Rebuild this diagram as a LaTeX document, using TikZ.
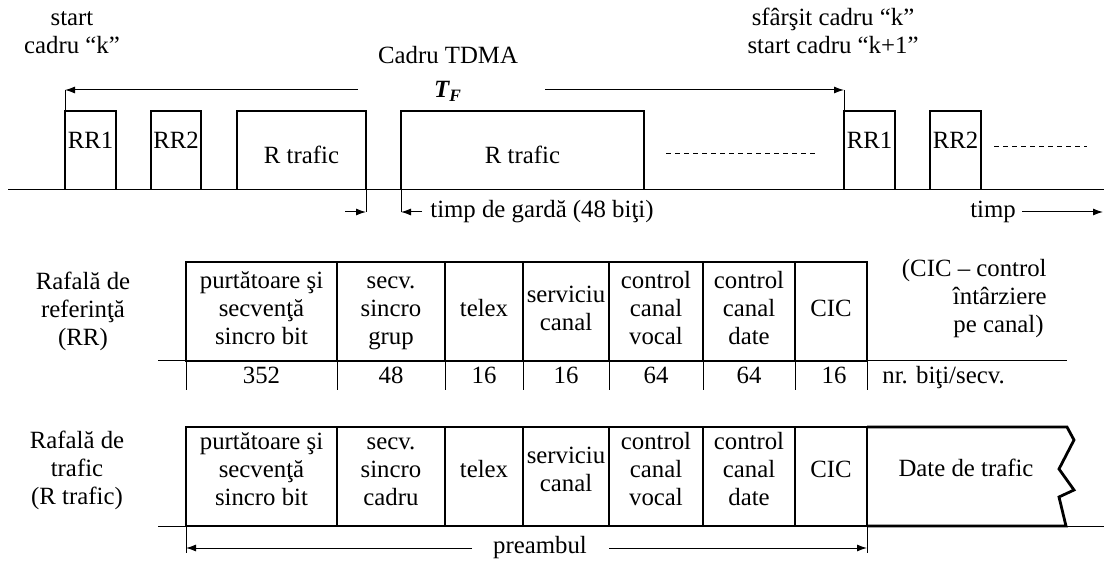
\documentclass[tikz,border=0pt]{standalone}
\usepackage{fontspec}
\setmainfont{Liberation Serif}
\usepackage{tikz}
\usetikzlibrary{arrows.meta,positioning}

\begin{document}
\begin{tikzpicture}[x=0.5pt,y=-0.5pt,font=\fontsize{12.4}{13.9}\selectfont,
  every node/.style={inner sep=0pt,align=center,
    execute at begin node=\strut,execute at end node=\strut},
  thickline/.style={line width=1.4pt},
  thinline/.style={line width=0.5pt},
  tip/.style={-{Latex[length=5pt,width=3.5pt]}},
  dashline/.style={line width=0.5pt,dash pattern=on 2.5pt off 2pt}]
\useasboundingbox (0,0) rectangle (1104,561);

\draw[thinline] (8,190) -- (1104,190);
\draw[thickline] (65,190) |- (116,111) -- (116,190);
\draw[thickline] (151,190) |- (201,111) -- (201,190);
\draw[thickline] (237,190) |- (366,111) -- (366,190);
\draw[thickline] (401,190) |- (644,111) -- (644,190);
\draw[thickline] (844,190) |- (895,111) -- (895,190);
\draw[thickline] (930,190) |- (981,111) -- (981,190);
\draw[dashline] (666,154) -- (817,154);
\draw[dashline] (994,147) -- (1087,147);

\node (rr1) at (90.5,143) {RR1};
\node (rr2) at (176,143) {RR2};
\node (rtr1) at (301.5,158) {R trafic};
\node (rtr2) at (522.5,158) {R trafic};
\node (rr1b) at (869.5,143) {RR1};
\node (rr2b) at (955.5,143) {RR2};

\node (startk) at (72,34) {\strut start\\cadru “k”\strut};
\node (endk) at (833,34) {\strut sfârşit cadru “k”\\start cadru “k+1”\strut};
\node (tdma) at (448,58) {Cadru TDMA};
\node (tf) at (448,92) {\bfseries\itshape T\textsubscript{F}};

\coordinate (fk) at (65,90);
\coordinate (fk1) at (844,90);
\coordinate (tfl) at (358,90);
\coordinate (tfr) at (545,90);
\draw[thinline,tip] (tfl) -- (fk);
\draw[thinline,tip] (tfr) -- (fk1);
\draw[thinline] (fk) -- (65,111);
\draw[thinline] (fk1) -- (844,111);

\coordinate (g1) at (366,212);
\coordinate (g2) at (401,212);
\draw[thinline] (366,190) -- (g1);
\draw[thinline] (401,190) -- (g2);
\draw[thinline,tip] (345,212) -- (g1);
\draw[thinline,tip] (422,212) -- (g2);
\node[anchor=west] (garda) at (430,212) {timp de gardă (48 biţi)};
\node (timp) at (993,212) {timp};
\draw[thinline,tip] (1022,212) -- (1103,212);

\node (rafrr) at (83,312) {\strut Rafală de\\referinţă\\(RR)\strut};
\draw[thinline] (158,361) -- (1067,361);
\draw[thickline] (186,262) rectangle (867,361);
\foreach \x in {337,445,523,609,703,795}
  \draw[thickline] (\x,262) -- (\x,361);
\foreach \x in {186,337,445,523,609,703,795,867}
  \draw[thinline] (\x,361) -- (\x,390);
\foreach \x/\t [count=\i] in {261.5/{purtătoare şi\\secvenţă\\sincro bit},
    391/{secv.\\sincro\\grup}, 484/telex, 566/{serviciu\\canal},
    656/{control\\canal\\vocal}, 749/{control\\canal\\date}, 831/CIC}
  \node (rrc\i) at (\x,311) {\strut\t\strut};
\foreach \x/\n [count=\i] in {261.5/352, 391/48, 484/16, 566/16, 656/64, 749/64, 834/16}
  \node (nb\i) at (\x,378) {\n};
\node[anchor=west] (nrbiti) at (882,378) {nr. biţi/secv.};
\node[anchor=east,align=right] (cicnote) at (1047,299)
  {\strut(CIC – control\\întârziere\hspace*{5pt}\\pe canal)\hspace*{1.5pt}\strut};

\node (raftr) at (77,471) {\strut Rafală de\\trafic\\(R trafic)\strut};
\draw[thinline] (158,526) -- (1104,526);
\draw[thickline] (186,427) rectangle (867,526);
\foreach \x in {337,445,523,609,703,795}
  \draw[thickline] (\x,427) -- (\x,526);
\draw[thickline] (867,427) -- (1067,427) -- (1074,440) -- (1059,469)
  -- (1074,490) -- (1059,497) -- (1066,526) -- (867,526);
\foreach \x/\t [count=\i] in {261.5/{purtătoare şi\\secvenţă\\sincro bit},
    391/{secv.\\sincro\\cadru}, 484/telex, 566/{serviciu\\canal},
    656/{control\\canal\\vocal}, 749/{control\\canal\\date}, 831/CIC}
  \node (trc\i) at (\x,472) {\strut\t\strut};
\node (date) at (966,471) {Date de trafic};

\coordinate (pa) at (186,548);
\coordinate (pb) at (867,548);
\draw[thinline] (186,526) -- (186,553);
\draw[thinline] (867,526) -- (867,553);
\node (pre) at (540,548) {preambul};
\draw[thinline,tip] (472,548) -- (pa);
\draw[thinline,tip] (609,548) -- (pb);
\end{tikzpicture}
\end{document}
